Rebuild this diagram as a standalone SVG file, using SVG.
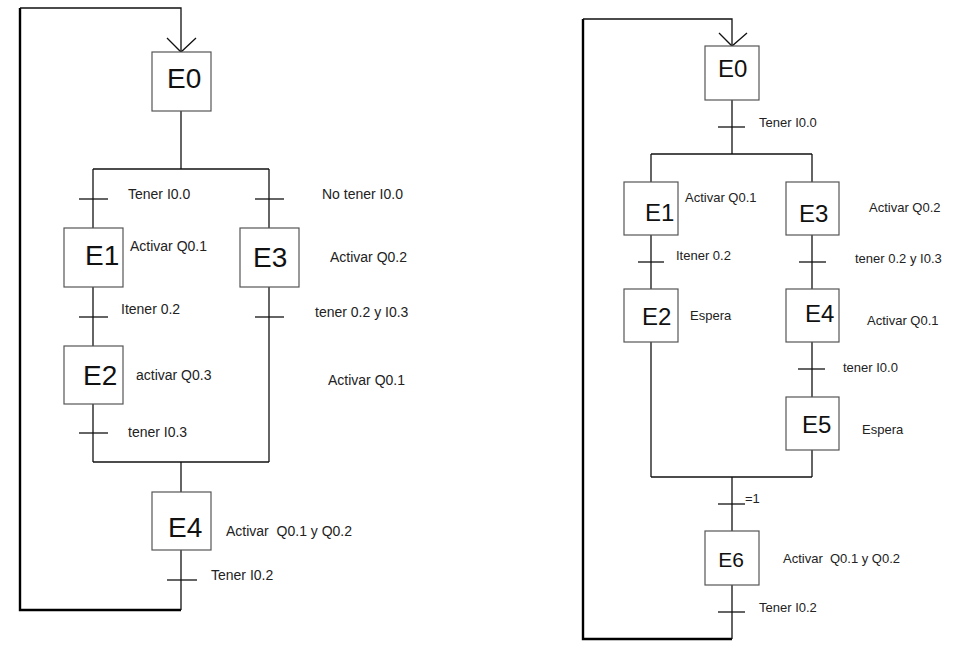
<svg xmlns="http://www.w3.org/2000/svg" width="956" height="652" viewBox="0 0 956 652">
<style>
.box{fill:#fff;stroke:#555;stroke-width:1.2}
.ln{fill:none;stroke:#111;stroke-width:1.3}
.loop{fill:none;stroke:#000;stroke-width:2.4}
.st{font-family:"Liberation Sans",Arial,sans-serif;fill:#111}
.lbl{font-family:"Liberation Sans",Arial,sans-serif;fill:#222;font-size:14px}
.rlbl{font-family:"Liberation Sans",Arial,sans-serif;fill:#222;font-size:13px}
</style>
<rect width="956" height="652" fill="#fff"/>
<g id="connectors">
<!-- left diagram -->
<polyline class="loop" points="181,610 20,610 20,8"/>
<polyline class="ln" points="20,8 181,8 181,52"/>
<polyline class="ln" points="167,38 181,52 196,38"/>
<line class="ln" x1="181" y1="111" x2="181" y2="169"/>
<line class="ln" x1="93" y1="169" x2="269" y2="169"/>
<line class="ln" x1="93" y1="169" x2="93" y2="228"/>
<line class="ln" x1="269" y1="169" x2="269" y2="228"/>
<line class="ln" x1="93" y1="287" x2="93" y2="346"/>
<line class="ln" x1="93" y1="404" x2="93" y2="462"/>
<line class="ln" x1="269" y1="287" x2="269" y2="462"/>
<line class="ln" x1="93" y1="462" x2="269" y2="462"/>
<line class="ln" x1="181" y1="462" x2="181" y2="492"/>
<line class="ln" x1="181" y1="550" x2="181" y2="610"/>
<line class="ln" x1="79" y1="199" x2="108" y2="199"/>
<line class="ln" x1="255" y1="199" x2="284" y2="199"/>
<line class="ln" x1="79" y1="317" x2="108" y2="317"/>
<line class="ln" x1="255" y1="317" x2="284" y2="317"/>
<line class="ln" x1="79" y1="433" x2="108" y2="433"/>
<line class="ln" x1="167" y1="580" x2="197" y2="580"/>
<!-- right diagram -->
<polyline class="loop" points="732,639 583,639 583,19"/>
<polyline class="ln" points="583,19 732,19 732,46"/>
<polyline class="ln" points="719,33 732,46 747,33"/>
<line class="ln" x1="732" y1="100" x2="732" y2="154"/>
<line class="ln" x1="651" y1="154" x2="812" y2="154"/>
<line class="ln" x1="651" y1="154" x2="651" y2="182"/>
<line class="ln" x1="812" y1="154" x2="812" y2="182"/>
<line class="ln" x1="651" y1="235" x2="651" y2="289"/>
<line class="ln" x1="651" y1="342" x2="651" y2="477"/>
<line class="ln" x1="812" y1="235" x2="812" y2="289"/>
<line class="ln" x1="812" y1="342" x2="812" y2="397"/>
<line class="ln" x1="812" y1="450" x2="812" y2="477"/>
<line class="ln" x1="651" y1="477" x2="812" y2="477"/>
<line class="ln" x1="732" y1="477" x2="732" y2="531"/>
<line class="ln" x1="732" y1="585" x2="732" y2="639"/>
<line class="ln" x1="718" y1="127" x2="745" y2="127"/>
<line class="ln" x1="638" y1="262" x2="664" y2="262"/>
<line class="ln" x1="799" y1="262" x2="826" y2="262"/>
<line class="ln" x1="798" y1="369" x2="825" y2="369"/>
<line class="ln" x1="718" y1="504" x2="745" y2="504"/>
<line class="ln" x1="718" y1="612" x2="745" y2="612"/>
</g>
<!-- left nodes -->
<g id="L_E0"><rect class="box" x="152" y="52" width="59" height="59"/><text class="st" x="167" y="88" font-size="28">E0</text></g>
<g id="L_E1"><rect class="box" x="64" y="228" width="59" height="59"/><text class="st" x="85" y="265" font-size="28">E1</text></g>
<g id="L_E3"><rect class="box" x="240" y="228" width="59" height="59"/><text class="st" x="253" y="267" font-size="28">E3</text></g>
<g id="L_E2"><rect class="box" x="64" y="346" width="59" height="58"/><text class="st" x="83" y="385" font-size="28">E2</text></g>
<g id="L_E4"><rect class="box" x="152" y="492" width="59" height="58"/><text class="st" x="168" y="537" font-size="28">E4</text></g>
<g id="L_labels">
<text class="lbl" x="128" y="199">Tener I0.0</text>
<text class="lbl" x="322" y="199">No tener I0.0</text>
<text class="lbl" x="130" y="251">Activar Q0.1</text>
<text class="lbl" x="330" y="262">Activar Q0.2</text>
<text class="lbl" x="121" y="314">Itener 0.2</text>
<text class="lbl" x="315" y="317">tener 0.2 y I0.3</text>
<text class="lbl" x="136" y="380">activar Q0.3</text>
<text class="lbl" x="328" y="385">Activar Q0.1</text>
<text class="lbl" x="128" y="437">tener I0.3</text>
<text class="lbl" x="226" y="536" xml:space="preserve">Activar  Q0.1 y Q0.2</text>
<text class="lbl" x="211" y="580">Tener I0.2</text>
</g>
<!-- right nodes -->
<g id="R_E0"><rect class="box" x="705" y="46" width="54" height="54"/><text class="st" x="718" y="77" font-size="24">E0</text></g>
<g id="R_E1"><rect class="box" x="624" y="182" width="54" height="53"/><text class="st" x="645" y="221" font-size="24">E1</text></g>
<g id="R_E3"><rect class="box" x="786" y="182" width="53" height="53"/><text class="st" x="799" y="222" font-size="24">E3</text></g>
<g id="R_E2"><rect class="box" x="624" y="289" width="54" height="53"/><text class="st" x="642" y="325" font-size="24">E2</text></g>
<g id="R_E4"><rect class="box" x="786" y="289" width="53" height="53"/><text class="st" x="805" y="322" font-size="24">E4</text></g>
<g id="R_E5"><rect class="box" x="786" y="397" width="53" height="53"/><text class="st" x="802" y="433" font-size="24">E5</text></g>
<g id="R_E6"><rect class="box" x="705" y="531" width="54" height="54"/><text class="st" x="731" y="567" font-size="21" text-anchor="middle">E6</text></g>
<g id="R_labels">
<text class="rlbl" x="759" y="127">Tener I0.0</text>
<text class="rlbl" x="685" y="202">Activar Q0.1</text>
<text class="rlbl" x="869" y="212">Activar Q0.2</text>
<text class="rlbl" x="676" y="260">Itener 0.2</text>
<text class="rlbl" x="855" y="263">tener 0.2 y I0.3</text>
<text class="rlbl" x="690" y="320">Espera</text>
<text class="rlbl" x="867" y="325">Activar Q0.1</text>
<text class="rlbl" x="843" y="372">tener I0.0</text>
<text class="rlbl" x="862" y="434">Espera</text>
<text class="rlbl" x="745" y="503">=1</text>
<text class="rlbl" x="783" y="563" xml:space="preserve">Activar  Q0.1 y Q0.2</text>
<text class="rlbl" x="759" y="612">Tener I0.2</text>
</g>
</svg>
